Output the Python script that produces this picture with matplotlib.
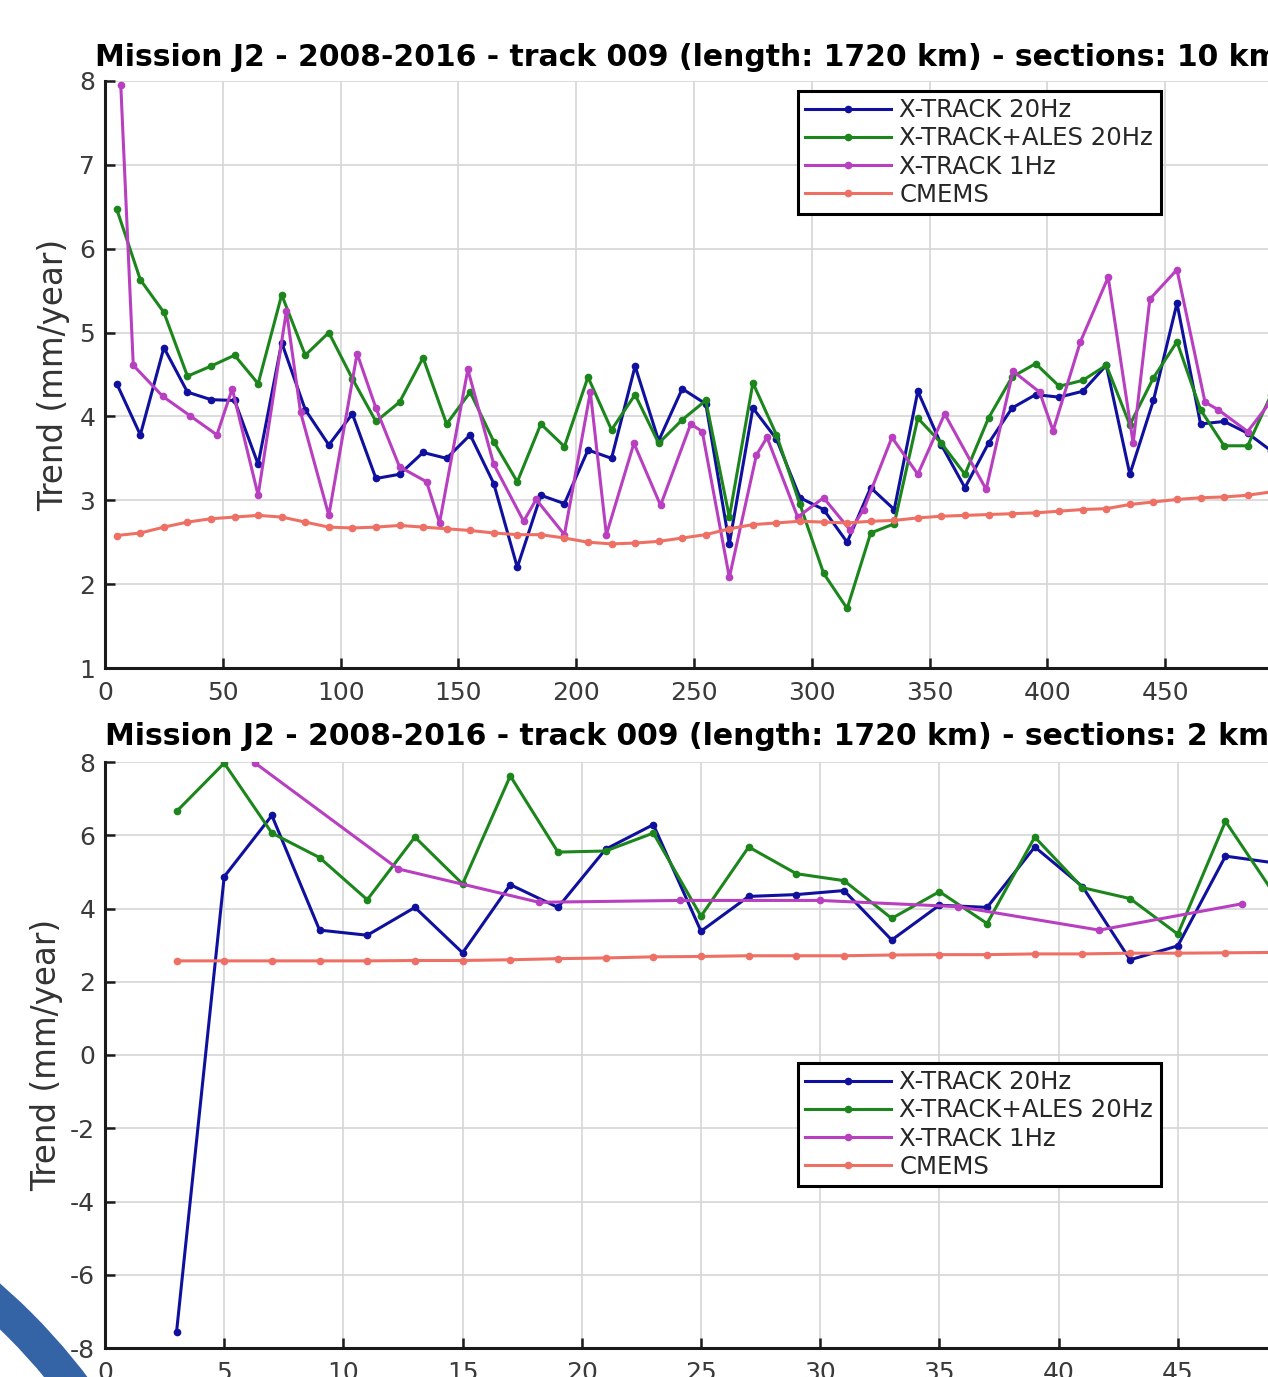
import numpy as np
import matplotlib
matplotlib.use('Agg')
import matplotlib.pyplot as plt
from matplotlib import patches

plt.rcParams['font.family'] = 'DejaVu Sans'
plt.rcParams['axes.unicode_minus'] = False

# ---- donnees : sections de 10 km --------------------------------
x10 = np.arange(5, 500, 10)
xt20_10 = [4.39, 3.78, 4.82, 4.29, 4.20, 4.19, 3.43, 4.88, 4.08, 3.66,
           4.03, 3.26, 3.31, 3.57, 3.50, 3.78, 3.20, 2.20, 3.06, 2.96,
           3.60, 3.50, 4.60, 3.71, 4.33, 4.15, 2.48, 4.10, 3.73, 3.03,
           2.89, 2.50, 3.15, 2.89, 4.30, 3.66, 3.15, 3.68, 4.10, 4.26,
           4.23, 4.30, 4.61, 3.31, 4.19, 5.35, 3.91, 3.94, 3.80, 3.59]
ales_10 = [6.47, 5.63, 5.24, 4.48, 4.60, 4.73, 4.39, 5.45, 4.73, 5.00,
           4.45, 3.94, 4.17, 4.70, 3.91, 4.29, 3.70, 3.22, 3.91, 3.64,
           4.47, 3.84, 4.26, 3.68, 3.96, 4.19, 2.80, 4.40, 3.78, 2.95,
           2.13, 1.71, 2.61, 2.72, 3.98, 3.68, 3.31, 3.98, 4.47, 4.63,
           4.36, 4.43, 4.61, 3.90, 4.46, 4.89, 4.08, 3.65, 3.65, 4.26]
x1hz_10 = [6.7, 12, 24.5, 36, 47.5, 54, 65, 77, 83, 95,
           107, 115, 125, 136.5, 142, 154, 165, 177.7, 183, 195,
           206, 212.8, 224.5, 235.8, 248.6, 253.5, 265, 276.5, 281, 294,
           305, 316.4, 322, 334, 345, 356.4, 374, 385.4, 396.7, 402.4,
           414, 425.8, 436.4, 443.5, 455, 466.9, 472.5, 485, 494]
xt1hz_10 = [7.95, 4.61, 4.24, 4.01, 3.78, 4.33, 3.06, 5.26, 4.05, 2.82,
            4.75, 4.10, 3.40, 3.22, 2.73, 4.56, 3.43, 2.75, 3.01, 2.59,
            4.29, 2.59, 3.68, 2.94, 3.91, 3.82, 2.08, 3.54, 3.75, 2.80,
            3.03, 2.64, 2.89, 3.75, 3.31, 4.03, 3.13, 4.54, 4.29, 3.83,
            4.89, 5.66, 3.68, 5.40, 5.75, 4.17, 4.08, 3.82, 4.15]
cmems_10 = [2.58, 2.61, 2.68, 2.74, 2.78, 2.80, 2.82, 2.80, 2.74, 2.68,
            2.67, 2.68, 2.70, 2.68, 2.66, 2.64, 2.61, 2.59, 2.59, 2.55,
            2.50, 2.48, 2.49, 2.51, 2.55, 2.59, 2.66, 2.71, 2.73, 2.75,
            2.74, 2.73, 2.75, 2.76, 2.79, 2.81, 2.82, 2.83, 2.84, 2.85,
            2.87, 2.89, 2.90, 2.95, 2.98, 3.01, 3.03, 3.04, 3.06, 3.10]

# ---- donnees : sections de 2 km ---------------------------------
x2 = np.arange(3, 50, 2)
xt20_2 = [-7.57, 4.87, 6.54, 3.41, 3.27, 4.03, 2.79, 4.65, 4.03, 5.62,
          6.29, 3.38, 4.33, 4.38, 4.49, 3.14, 4.09, 4.03, 5.68, 4.60,
          2.60, 2.98, 5.43, 5.25]
ales_2 = [6.65, 7.97, 6.06, 5.39, 4.24, 5.95, 4.67, 7.62, 5.54, 5.57,
          6.06, 3.79, 5.68, 4.95, 4.76, 3.73, 4.46, 3.59, 5.95, 4.57,
          4.27, 3.30, 6.38, 4.44]
x1hz_2 = [6.3, 12.3, 18.2, 24.1, 30.0, 35.8, 41.7, 47.7]
xt1hz_2 = [7.97, 5.08, 4.17, 4.22, 4.22, 4.05, 3.41, 4.13]
cmems_2 = [2.57, 2.57, 2.57, 2.57, 2.57, 2.58, 2.58, 2.60, 2.63, 2.65,
           2.68, 2.69, 2.71, 2.71, 2.71, 2.73, 2.74, 2.74, 2.76, 2.76,
           2.78, 2.78, 2.79, 2.80]

labels = ['X-TRACK 20Hz', 'X-TRACK+ALES 20Hz', 'X-TRACK 1Hz', 'CMEMS']
colors = ['#10109e', '#1c861c', '#b83fc0', '#ee7064']

W, H = 1268, 1377
fig = plt.figure(figsize=(W / 100, H / 100), dpi=100)


def px_axes(l, t, r, b):
    return fig.add_axes([l / W, 1 - b / H, (r - l) / W, (b - t) / H])


def style(ax):
    ax.grid(True, color='#d6d6d6', lw=1.2)
    ax.set_axisbelow(True)
    for s in ['top', 'right']:
        ax.spines[s].set_visible(False)
    for s in ['left', 'bottom']:
        ax.spines[s].set_linewidth(2.2)
        ax.spines[s].set_color('#1a1a1a')
    ax.tick_params(direction='in', length=7, width=1.8, labelsize=18,
                   labelcolor='#3a3a3a', color='#1a1a1a')
    ax.tick_params(axis='y', pad=7)
    ax.tick_params(axis='x', pad=9)


def trace(ax, xs, ys):
    for x, y, c, lab in zip(xs, ys, colors, labels):
        ax.plot(x, y, '-o', color=c, lw=2.2, ms=4.5, label=lab)


def legende(ax, top):
    leg = ax.legend(loc='upper left', bbox_to_anchor=(798 / W, 1 - top / H),
                    bbox_transform=fig.transFigure, fontsize=17.6, frameon=True,
                    fancybox=False, framealpha=1, edgecolor='black',
                    borderaxespad=0, handlelength=3.5, handletextpad=0.35,
                    labelspacing=0.17, borderpad=0.3, labelcolor='#262626')
    leg.get_frame().set_linewidth(2.2)


# ---- graphe du haut ---------------------------------------------
ax1 = px_axes(105, 81, 1283, 668)
style(ax1)
trace(ax1, [x10, x10, x1hz_10, x10], [xt20_10, ales_10, xt1hz_10, cmems_10])
ax1.set_xlim(0, 500)
ax1.set_ylim(1, 8)
ax1.set_xticks(np.arange(0, 451, 50))
ax1.set_yticks(np.arange(1, 9, 1))
ax1.set_title('Mission J2 - 2008-2016 - track 009 (length: 1720 km) - sections: 10 km',
              fontsize=21.5, fontweight='bold', pad=11, x=0.4944)
ax1.set_ylabel('Trend (mm/year)', fontsize=23.5, color='#333333')
ax1.yaxis.set_label_coords(-0.030, 0.5)
legende(ax1, 91)

# cache du bas (image recadree)
fig.add_artist(patches.Rectangle((0, 0), 1, 1 - 700 / H, transform=fig.transFigure,
                                 facecolor='white', edgecolor='none', zorder=0.5))

# ---- graphe du bas ----------------------------------------------
ax2 = px_axes(105, 762, 1297, 1348)
ax2.set_zorder(1)
style(ax2)
trace(ax2, [x2, x2, x1hz_2, x2], [xt20_2, ales_2, xt1hz_2, cmems_2])
ax2.set_xlim(0, 50)
ax2.set_ylim(-8, 8)
ax2.set_xticks(np.arange(0, 51, 5))
ax2.set_yticks(np.arange(-8, 9, 2))
ax2.set_title('Mission J2 - 2008-2016 - track 009 (length: 1720 km) - sections: 2 km',
              fontsize=21.5, fontweight='bold', pad=12, x=0.488)
ax2.set_ylabel('Trend (mm/year)', fontsize=23.5, color='#333333')
ax2.yaxis.set_label_coords(-0.035, 0.5)
legende(ax2, 1063)

# ---- arc bleu decoratif (coin bas gauche) -----------------------
ov = fig.add_axes([0, 0, 1, 1])
ov.set_zorder(2)
ov.set_xlim(0, W)
ov.set_ylim(H, 0)
ov.axis('off')
ov.patch.set_alpha(0)
ov.add_patch(patches.Wedge((-403, 1748), 615, 0, 360, width=34,
                           facecolor='#3464a6', edgecolor='none'))

fig.savefig('out.png', dpi=100)
